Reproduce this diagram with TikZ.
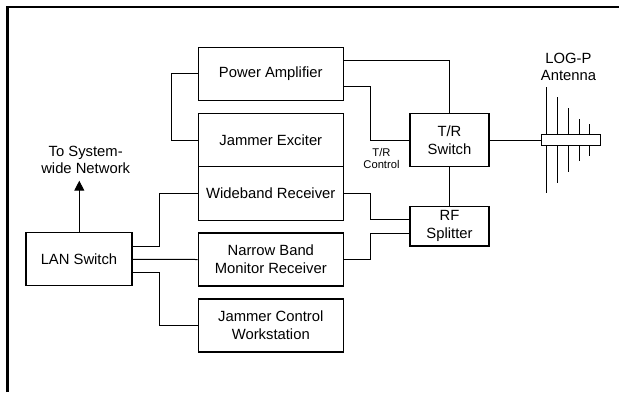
\documentclass[tikz,border=0pt]{standalone}
\usepackage{fontspec}
\setmainfont{Liberation Sans}
\usetikzlibrary{arrows.meta}
\usetikzlibrary{positioning, calc}

\begin{document}
\begin{tikzpicture}[x=1pt, y=-1pt]
		\newcommand*{\boxw}{145.5pt}
		\newcommand*{\boxh}{53pt}
		\tikzset{
			myarrow/.tip={Triangle[length=10pt, width=10pt]},
			block/.style={draw, line width=1.1pt, inner sep=0pt, align=center,
				font=\fontsize{14.8}{18}\selectfont},
			wire/.style={line width=1pt},
		}
		\useasboundingbox (0,0) rectangle (619,392);
		\draw[line width=2.6pt] (7.5,392) -- (7.5,6.8) -- (619,6.8);

		\node[block, minimum width=\boxw, minimum height=52.7pt] (pa) at (270.8,73.7) {Power Amplifier};
		\node[block, minimum width=\boxw, minimum height=\boxh] (je) at (270.8,140.2) {Jammer Exciter};
		\node[block, minimum width=\boxw, minimum height=53.4pt] (wr) at (270.8,193.4) {Wideband Receiver};
		\node[block, minimum width=\boxw, minimum height=\boxh] (nb) at (270.8,259.5) {Narrow Band\\Monitor Receiver};
		\node[block, minimum width=\boxw, minimum height=\boxh] (jcw) at (270.8,325.5) {Jammer Control\\Workstation};
		\node[block, minimum width=106pt, minimum height=\boxh] (lan) at (79,259.3) {LAN Switch};
		\node[block, minimum width=79pt, minimum height=\boxh] (trs) at (449.5,140) {T/R\\Switch};
		\node[block, minimum width=79pt, minimum height=39.3pt] (rfs) at (449.5,226.3) {RF\\Splitter};

		\node[align=center, font=\fontsize{14.8}{17.5}\selectfont] (net) at (85.7,159.7) {To System-\\wide Network};
		\node[align=center, font=\fontsize{14.8}{17.5}\selectfont] (antlabel) at (568.5,66.8) {LOG-P\\Antenna};
		\node[align=center, font=\fontsize{11.2}{11.6}\selectfont] (trc) at (381.5,158.5) {T/R\\Control};

		% antenna
		\foreach \x/\t/\b in {546.7/87/193, 557.7/97/183, 568.3/108/172, 579.3/119/161, 589.3/124/156}
			\draw[wire] (\x,\t) -- (\x,\b);
		\draw[block, fill=white] (541.7,134.5) rectangle (600.3,145.3);
		\coordinate (ant) at (541.7,140);
		\coordinate (up) at (79.3,180.7);

		\draw[wire] ([yshift=13pt]pa.east) -| (trs.north);
		\draw[wire] ([yshift=-13pt]pa.east) -- ++(26.5,0) |- (trs.west);
		\draw[wire] (pa.west) -- ++(-26.3,0) |- (je.west);
		\draw[wire] (trs.south) -- (rfs.north);
		\draw[wire] (trs.east) -- (ant);
		\draw[wire] (wr.east) -- ++(26.5,0) |- ([yshift=6.5pt]rfs.west);
		\draw[wire] (nb.east) -- ++(26.5,0) |- ([yshift=-7pt]rfs.west);
		\draw[wire] ([yshift=13.3pt]lan.east) -- ++(26.5,0) |- (wr.west);
		\draw[wire] (lan.east) -- (nb.west);
		\draw[wire] ([yshift=-13.3pt]lan.east) -- ++(26.5,0) |- (jcw.west);
		\draw[wire, -myarrow] (lan.north -| up) -- (up);
	\end{tikzpicture}
\end{document}
